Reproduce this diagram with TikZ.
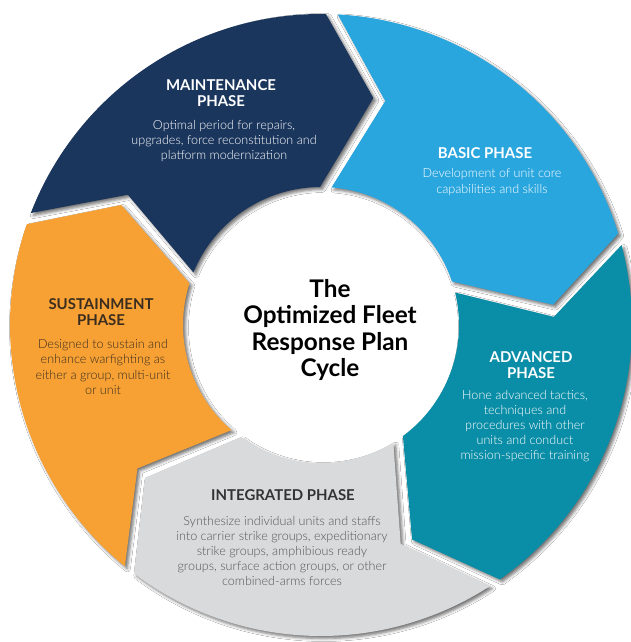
\documentclass[tikz,border=0pt]{standalone}
\usepackage{fontspec}
\setmainfont{Lato}
\IfFontExistsTF{Lato Light}{\newfontfamily\bodyfont{Lato Light}}{\newfontfamily\bodyfont{Lato}}
\usetikzlibrary{shadows.blur}

\definecolor{navy}{HTML}{1B365D}
\definecolor{skyblue}{HTML}{2AA6DE}
\definecolor{advteal}{HTML}{0A8DA6}
\definecolor{lightgrey}{HTML}{D9DADC}
\definecolor{sustorange}{HTML}{F7A134}
\definecolor{darktext}{HTML}{333333}
\definecolor{greytext}{HTML}{555555}
\definecolor{browntext}{HTML}{3A2D1F}

% ring sizes (bp) and angles (deg)
\newcommand{\rout}{311}
\newcommand{\rin}{138}
\newcommand{\rtip}{233}
\newcommand{\tipang}{12.5}
\newcommand{\gapout}{1.1}
\newcommand{\gapmid}{1.5}
\newcommand{\gapin}{2.4}

% one arrow piece of the ring: colour, trailing angle, leading angle
\newcommand{\phasearc}[3]{%
  \fill[#1, ringshade]
    (#2-\gapout:\rout) -- (#2-\tipang-\gapmid:\rtip) -- (#2-\gapin:\rin)
    arc[start angle=#2-\gapin, end angle=#3+\gapin, radius=\rin bp]
    -- (#3-\tipang+\gapmid:\rtip) -- (#3+\gapout:\rout)
    arc[start angle=#3+\gapout, end angle=#2-\gapout, radius=\rout bp] -- cycle;
}

\begin{document}
\begin{tikzpicture}[x=1bp, y=1bp,
    ringshade/.style={blur shadow={shadow xshift=2.5bp, shadow yshift=-2.5bp,
        shadow blur radius=3bp, shadow opacity=55}},
    phasetitle/.style={align=center, font=\bfseries\fontsize{15}{16.5}\selectfont},
    phasebody/.style={align=center, font=\bodyfont\fontsize{12.6}{15.2}\selectfont}]
    \useasboundingbox (-321,-317) rectangle (310,325);
    \fill[white] (-321,-317) rectangle (310,325);

    % the five phases, clockwise from the top
    \phasearc{navy}{160}{88}
    \phasearc{skyblue}{88}{16}
    \phasearc{advteal}{16}{-56}
    \phasearc{lightgrey}{-56}{-128}
    \phasearc{sustorange}{-128}{-200}

    % Maintenance
    \node[phasetitle, white] (mainttitle) at (-100,232) {MAINTENANCE\\PHASE};
    \node[phasebody, white] (maintbody) at (-97,184)
        {Optimal period for repairs,\\upgrades, force reconstitution and\\platform modernization};

    % Basic
    \node[phasetitle, white] (basictitle) at (164,172) {BASIC PHASE};
    \node[phasebody, white] (basicbody) at (171,143)
        {Development of unit core\\capabilities and skills};

    % Advanced
    \node[phasetitle, white] (advtitle) at (210,-40) {ADVANCED\\PHASE};
    \node[phasebody, white] (advbody) at (204,-101)
        {Hone advanced tactics,\\techniques and\\procedures with other\\units and conduct\\mission-specific training};

    % Integrated
    \node[phasetitle, darktext] (inttitle) at (-38,-170) {INTEGRATED PHASE};
    \node[phasebody, greytext] (intbody) at (-39,-226)
        {Synthesize individual units and staffs\\into carrier strike groups, expeditionary\\strike groups, amphibious ready\\groups, surface action groups, or other\\combined-arms forces};

    % Sustainment
    \node[phasetitle, browntext] (susttitle) at (-220,13) {SUSTAINMENT\\PHASE};
    \node[phasebody, browntext] (sustbody) at (-218,-42)
        {Designed to sustain and\\enhance warfighting as\\either a group, multi-unit\\or unit};

    % centre
    \node[align=center, font=\bfseries\fontsize{24.4}{26.5}\selectfont] (cycle) at (9,-5)
        {The\\Optimized Fleet\\Response Plan\\Cycle};
\end{tikzpicture}
\end{document}
